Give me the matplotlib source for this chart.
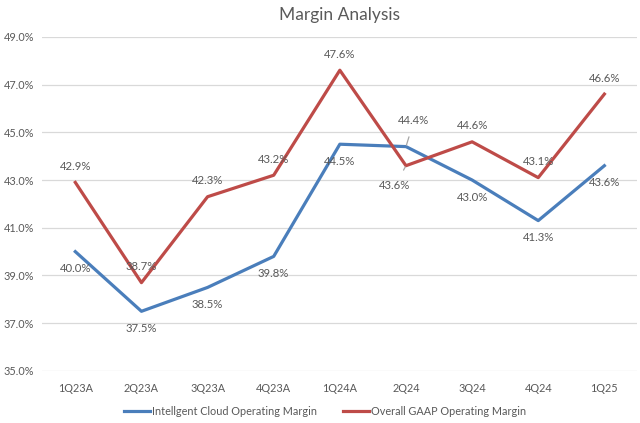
import matplotlib.pyplot as plt
from matplotlib.ticker import FuncFormatter

plt.rcParams['font.family'] = ['Lato', 'DejaVu Sans']

quarters = ['1Q23A', '2Q23A', '3Q23A', '4Q23A', '1Q24A', '2Q24', '3Q24', '4Q24', '1Q25']
cloud = [40.0, 37.5, 38.5, 39.8, 44.5, 44.4, 43.0, 41.3, 43.6]
gaap = [42.9, 38.7, 42.3, 43.2, 47.6, 43.6, 44.6, 43.1, 46.6]

blue = '#4a7ebb'
red = '#be4b48'
grey = '#595959'

fig = plt.figure(figsize=(6.4, 4.23), dpi=100)
ax = fig.add_axes([0.066, 0.123, 0.93, 0.79])

x = range(len(quarters))
ax.plot(x, cloud, color=blue, lw=2.3, label='Intellgent Cloud Operating Margin', zorder=3)
ax.plot(x, gaap, color=red, lw=2.3, label='Overall GAAP Operating Margin', zorder=3)

# data labels: red above, blue below
for i in x:
    if quarters[i] == '2Q24':
        ax.annotate(f'{cloud[i]:.1f}%', (i, cloud[i]), xytext=(8, 26), textcoords='offset pixels',
                    ha='center', va='center', fontsize=8.2, color=grey,
                    arrowprops=dict(arrowstyle='-', color='#a6a6a6', lw=0.9, shrinkA=6, shrinkB=1))
        ax.annotate(f'{gaap[i]:.1f}%', (i, gaap[i]), xytext=(-11, -20), textcoords='offset pixels',
                    ha='center', va='center', fontsize=8.2, color=grey,
                    arrowprops=dict(arrowstyle='-', color='#a6a6a6', lw=0.9, shrinkA=6, shrinkB=1))
        continue
    ax.annotate(f'{gaap[i]:.1f}%', (i, gaap[i]), xytext=(0, 16), textcoords='offset pixels',
                ha='center', va='center', fontsize=8.2, color=grey)
    ax.annotate(f'{cloud[i]:.1f}%', (i, cloud[i]), xytext=(0, -17), textcoords='offset pixels',
                ha='center', va='center', fontsize=8.2, color=grey)

ax.set_xlim(-0.5, len(quarters) - 0.5)
ax.set_ylim(35, 49)
ax.set_yticks(range(35, 50, 2))
ax.yaxis.set_major_formatter(FuncFormatter(lambda v, p: f'{v:.1f}%'))
ax.set_xticks(list(x))
ax.set_xticklabels(quarters)
ax.tick_params(length=0, labelsize=7.8, colors=grey, pad=9)
ax.tick_params(axis='y', pad=6)
ax.grid(axis='y', color='#d9d9d9', lw=0.9)
ax.set_axisbelow(True)
for s in ax.spines.values():
    s.set_visible(False)

ax.set_title('Margin Analysis', fontsize=12.5, color=grey, pad=12)
ax.legend(loc='upper center', bbox_to_anchor=(0.475, -0.075), ncol=2, frameon=False,
          fontsize=7.8, labelcolor=grey, handlelength=2.4, handletextpad=0.15, columnspacing=2.4)

fig.savefig('out.png', dpi=100)
